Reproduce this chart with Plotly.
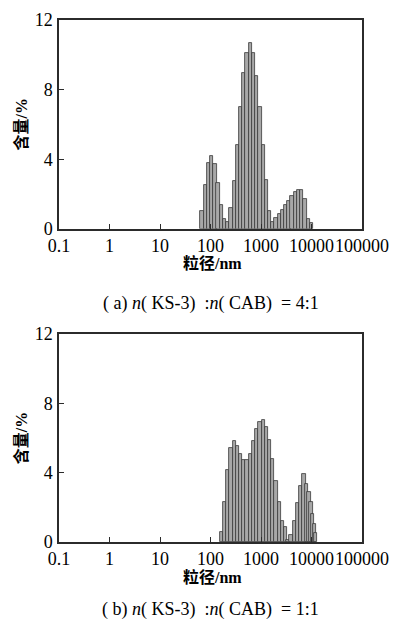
import plotly.graph_objects as go

# particle size bins (nm) and volume content (%)
size_a = [68.06, 78.82, 91.28, 105.7, 122.4, 141.8, 164.2, 190.1, 220.2, 255.0,
          295.3, 342.0, 396.1, 458.7, 531.2, 615.1, 712.4, 825.0, 955.4, 1106,
          1281, 1484, 1718, 1990, 2305, 2669, 3091, 3580, 4145, 4801,
          5560, 6439, 7456, 8635, 10000]
content_a = [1.0, 2.5, 3.78, 4.2, 3.72, 2.62, 1.38, 0.55, 0.41, 1.18,
             2.76, 4.82, 7.02, 8.95, 10.13, 10.65, 10.1, 8.8, 7.0, 4.83,
             2.82, 1.05, 0.4, 0.6, 0.84, 1.08, 1.37, 1.6, 1.88, 2.09,
             2.23, 2.23, 1.69, 0.55, 0.33]

size_b = [164.2, 190.1, 220.2, 255.0, 295.3, 342.0, 396.1, 458.7, 531.2, 615.1,
          712.4, 825.0, 955.4, 1106, 1281, 1484, 1718, 1990, 2305, 2669,
          3050, 3450, 3950, 4550, 5250, 6100, 7130, 8020, 8950, 9800,
          10530, 11380, 11900]
content_b = [0.6, 2.28, 4.13, 5.41, 5.8, 5.55, 5.08, 4.74, 4.74, 5.08,
             5.8, 6.5, 6.95, 7.05, 6.66, 5.9, 4.78, 3.53, 2.28, 1.19,
             0.86, 0.1, 0.38, 1.23, 2.25, 3.24, 3.92, 3.34, 2.88, 2.3,
             1.63, 1.04, 0.52]

x_ticks = [0.1, 1, 10, 100, 1000, 10000, 100000]
x_ticktext = ["0.1", "1", "10", "100", "1000", "10000", "100000"]
y_ticks = [0, 4, 8, 12]

captions = ["( a) <i>n</i>( KS-3)  :<i>n</i>( CAB)  = 4:1",
            "( b) <i>n</i>( KS-3)  :<i>n</i>( CAB)  = 1:1"]

BAR_FILL = "#a8a8a8"
BAR_LINE = "#3a3a3a"
AX = "#2b2b2b"
SERIF = "Liberation Serif, Noto Sans CJK SC"
REL_W = 0.1498  # bar width relative to size -> constant width on log axis

fig = go.Figure()
for i, (xs, ys) in enumerate([(size_a, content_a), (size_b, content_b)]):
    suffix = "" if i == 0 else str(i + 1)
    fig.add_trace(go.Bar(
        x=xs, y=ys, width=[v * REL_W for v in xs],
        marker=dict(color=BAR_FILL, line=dict(color=BAR_LINE, width=0.8)),
        xaxis="x" + suffix, yaxis="y" + suffix, showlegend=False,
    ))

xcommon = dict(type="log", range=[-1, 5], tickvals=x_ticks, ticktext=x_ticktext,
               ticks="inside", ticklen=5, tickcolor=AX, showline=True, linecolor=AX,
               linewidth=1.5, mirror=True, showgrid=False, zeroline=False,
               tickangle=0, automargin=False,
               tickfont=dict(family=SERIF, size=18, color="black"),
               ticklabelstandoff=0)
ycommon = dict(range=[0, 12], tickvals=y_ticks, ticks="inside", ticklen=5,
               tickcolor=AX, showline=True, linecolor=AX, linewidth=1.5,
               mirror=True, showgrid=False, zeroline=False, automargin=False,
               tickfont=dict(family=SERIF, size=18, color="black"),
               ticklabelstandoff=1)

# the page body adds an 8px offset, so the figure is a little smaller than the window
fig.update_layout(
    width=396, height=619,
    margin=dict(l=51, r=42, t=12, b=85),
    paper_bgcolor="white", plot_bgcolor="white",
    bargap=0,
    xaxis=dict(xcommon, domain=[0, 1], anchor="y"),
    yaxis=dict(ycommon, domain=[0.6, 1], anchor="x"),
    xaxis2=dict(xcommon, domain=[0, 1], anchor="y2"),
    yaxis2=dict(ycommon, domain=[0, 0.3985], anchor="x2"),
)

title_font = dict(family=SERIF, size=16, color="black")
for ymid, ytitle in [(0.8, 0.5345), (0.199, -0.067)]:
    fig.add_annotation(text="<b>含量/%</b>", textangle=-90, x=-0.125, y=ymid,
                       xanchor="center", yanchor="middle",
                       xref="paper", yref="paper", showarrow=False, font=title_font)
    fig.add_annotation(text="<b>粒径/nm</b>", x=0.508, y=ytitle,
                       xanchor="center", yanchor="middle",
                       xref="paper", yref="paper", showarrow=False, font=title_font)
for cap, ycap in zip(captions, [0.456, -0.13]):
    fig.add_annotation(text=cap, x=0.5, y=ycap, xref="paper", yref="paper",
                       xanchor="center", yanchor="middle",
                       showarrow=False, font=dict(family=SERIF, size=18, color="black"))

fig.write_html("out.html")
